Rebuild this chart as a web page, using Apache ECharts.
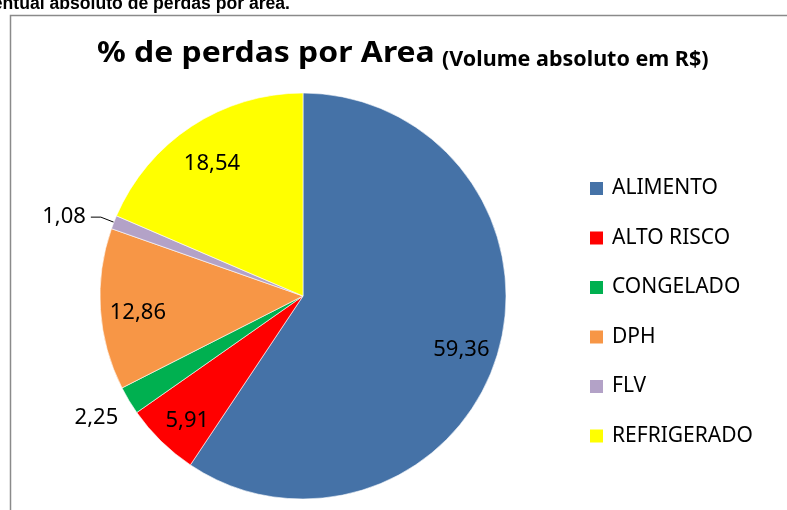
<!DOCTYPE html>
<html>
<head>
<meta charset="utf-8">
<script src="https://cdn.jsdelivr.net/npm/echarts@6/dist/echarts.min.js"></script>
<style>
  html, body { margin: 0; padding: 0; background: #fff; }
  #main { width: 787px; height: 510px; }
</style>
</head>
<body>
<div id="main"></div>
<script>
// dados do grafico
const areas = ['ALIMENTO', 'ALTO RISCO', 'CONGELADO', 'DPH', 'FLV', 'REFRIGERADO'];
const perdas = [59.36, 5.91, 2.25, 12.86, 1.08, 18.54];
const cores = ['#4572A7', '#FF0000', '#00B050', '#F79646', '#B3A2C7', '#FFFF00'];
// fatias pequenas ficam com rotulo fora
const rotuloFora = ['CONGELADO', 'FLV'];

const fmt = v => v.toFixed(2).replace('.', ',');
const fonte = 'Noto Sans';
const idxCongelado = areas.indexOf('CONGELADO');

let chart = echarts.init(document.getElementById('main'));

chart.setOption({
  backgroundColor: '#fff',
  animation: false,
  graphic: [
    {
      type: 'rect',
      shape: { x: 10.5, y: 15.5, width: 820, height: 560 },
      style: { fill: 'none', stroke: '#8a8a8a', lineWidth: 1.5 },
      silent: true
    },
    {
      type: 'text',
      right: 497,
      top: -5,
      style: {
        text: 'Percentual absoluto de perdas por area.',
        font: 'bold 17.6px "Liberation Sans", Arial',
        fill: '#000'
      }
    },
    {
      type: 'text',
      x: 97,
      y: 40,
      scaleX: 1.14,
      style: {
        text: '% de perdas por Area',
        font: 'bold 28px ' + fonte,
        fill: '#000'
      }
    },
    {
      type: 'text',
      x: 442,
      y: 49,
      style: {
        text: '(Volume absoluto em R$)',
        font: 'bold 21.5px ' + fonte,
        fill: '#000'
      }
    }
  ],
  legend: {
    orient: 'vertical',
    left: 588,
    top: 178,
    padding: 0,
    itemWidth: 15,
    itemHeight: 15,
    itemGap: 28.5,
    icon: 'rect',
    data: areas,
    textStyle: { fontFamily: fonte, fontSize: 21, color: '#000', padding: [0, 0, 0, 3] }
  },
  series: [
    {
      type: 'pie',
      center: [303, 296],
      radius: [0, 203],
      startAngle: 90,
      clockwise: true,
      silent: true,
      itemStyle: { borderColor: '#fff', borderWidth: 0.6 },
      labelLayout: p => (p.dataIndex === idxCongelado ? { dy: 16 } : {}),
      data: areas.map((a, i) => ({
        name: a,
        value: perdas[i],
        itemStyle: { color: cores[i] },
        label: {
          show: rotuloFora.includes(a),
          position: 'outside',
          formatter: p => fmt(p.value),
          fontFamily: fonte, fontSize: 22, color: '#000'
        },
        labelLine: {
          show: a === 'FLV',
          length: a === 'FLV' ? 14 : 2,
          length2: a === 'FLV' ? 10 : 4,
          lineStyle: { color: '#000', width: 1 }
        }
      }))
    },
    {
      // serie transparente so para posicionar os rotulos internos
      type: 'pie',
      center: [303, 296],
      radius: [122, 203],
      startAngle: 90,
      clockwise: true,
      silent: true,
      legendHoverLink: false,
      labelLayout: { dy: 6 },
      data: areas.map((a, i) => ({
        name: a,
        value: perdas[i],
        itemStyle: { color: 'rgba(0,0,0,0)' },
        label: {
          show: !rotuloFora.includes(a),
          position: 'inside',
          formatter: p => fmt(p.value),
          fontFamily: fonte, fontSize: 22, color: '#000'
        }
      })),
      labelLine: { show: false }
    }
  ]
});
</script>
</body>
</html>
